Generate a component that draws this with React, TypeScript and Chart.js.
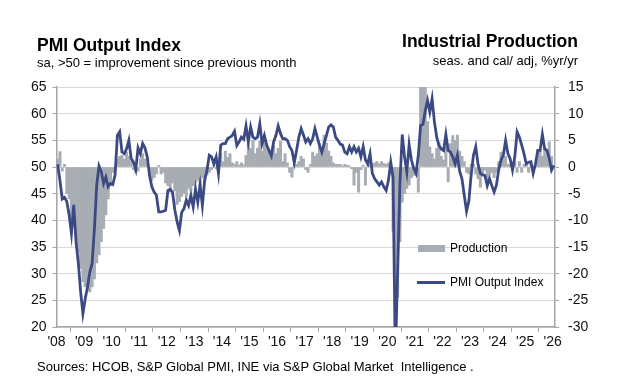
import React, { useEffect, useRef } from "react";
import { Chart, registerables } from "chart.js";

Chart.register(...registerables);

// x-axis year tick labels (one every 12 months, starting Jan 2008)
const yearLabels = ["'08", "'09", "'10", "'11", "'12", "'13", "'14", "'15", "'16", "'17", "'18", "'19", "'20", "'21", "'22", "'23", "'24", "'25", "'26"];

// PMI Output Index, monthly, Jan 2008 – Jan 2026 (left axis)
const pmiOutput = [
  50.5, 47.5, 44, 44.3, 43.5, 41, 37.5, 42.9, 36, 32, 26.6, 22.5,
  25.3, 27.5, 30.3, 31.9, 38.4, 46.6, 50.2, 49.1, 46.9, 48.1, 46.3, 46.9,
  46.7, 48.5, 55.9, 56.6, 52.8, 52.5, 53.4, 55, 51.6, 50.9, 49.5, 53.6,
  52.5, 54.4, 53.6, 51.9, 48.4, 46.3, 45.3, 44.7, 41.6, 41.6, 41.7, 41.9,
  45.6, 45.8, 45.3, 42, 39.7, 38.1, 41.5, 42.2, 43.8, 42.8, 44.7, 42.5,
  45.9, 43.4, 46.6, 42.8, 47.5, 49.4, 52.2, 51.9, 50.6, 51.9, 48.8, 54.1,
  54.4, 54.4, 55.3, 55.6, 55.9, 56.7, 54, 54.7, 55.6, 55.2, 57.7, 54.7,
  57.5, 55.6, 55.3, 55.6, 58.1, 54.4, 55.9, 54.1, 53.1, 52.1, 54.7, 55.9,
  57.7, 56.3, 55.3, 55.3, 55, 53.8, 53.1, 50.8, 53.1, 55.6, 57.2, 56,
  54.7, 55.3, 54.4, 55.3, 57.2, 55.6, 54, 52.8, 54.4, 55.9, 57.5, 57.9,
  57.5, 55.6, 55, 54.3, 54.1, 52.8, 52.5, 53.8, 52.8, 53.8, 52.8, 53.5,
  51.9, 53.8, 51.3, 50.6, 52.5, 48.8, 47.8, 47.2, 46.6, 47.2, 46.3, 45.6,
  47.5, 50.9, 48, 14, 30.3, 47, 56.1, 51.9, 49.1, 54.2, 51.3, 49.7,
  48.8, 52.2, 57.8, 58, 60.5, 62.5, 60.3, 62.8, 58.5, 55.6, 54, 53.4,
  53.1, 56.1, 53.1, 52.8, 51.9, 50.6, 52.2, 49.2, 47.8, 44.7, 41.7, 43.6,
  48.5, 52.2, 53.8, 50.5, 48.8, 48.5, 48.4, 46.5, 47.8, 46.5, 45.3, 46.6,
  49.5, 51.3, 52.2, 55, 52.5, 51.5, 49.4, 51.9, 56.6, 55.6, 54.1, 52.5,
  50.6, 50.9, 51, 48.8, 50.6, 53.1, 53.1, 56.1, 53.4, 53.1, 51.6, 49.4,
  50.3,
];

// Industrial Production, % yr/yr, monthly, Jan 2008 – Dec 2025 (right axis)
const industrialProduction = [
  1.5, 2.9, -0.8, 0.5, -5, -6, -10, -11, -13.5, -16, -19, -21.5,
  -22.5, -23, -23.4, -22.5, -21, -18, -16.5, -14, -11.5, -9, -6, -3.5,
  -1, -0.7, 1.5, 2, 2.2, 1.5, 2.8, 2, 1, -0.5, -1, -0.8,
  1.5, 2.5, 1.5, 0.8, -1.6, -2.5, -2, -1.3, 0.3, -1.3, -1, -3,
  -3.5, -4.7, -3, -4.5, -7, -6.5, -5.5, -5, -5.5, -4, -4.5, -3.5,
  -3, -2.5, -3.5, -2, -2.2, -1.5, -1, -0.5, 0.3, -0.3, 0.5, 2.5,
  1, 3, 1.8, 2.5, 0.8, 0.5, 1, 0.4, 0.8, 0.4, 2.2, 4.4,
  3.5, 5, 2.5, 3.5, 4.8, 3, 5, 4, 3.2, 2.5, 4, 2.5,
  3.5, 4.8, 1, 2.5, 0.8, -1, -1.9, 0.5, 0.5, 1, 2, 1.5,
  -0.5, -1, 0.5, 2.8, 2, 2.5, 4.4, 3.5, 6, 4.5, 3, 2,
  0.8, 0.5, 0.5, 0.5, 0.2, 0.5, 0.3, 0.2, -0.3, -3.4, -1, -4.7,
  -0.5, 0.3, -3.4, 0.6, 0.8, 0.5, 0.8, 1, 0.6, 1, 0.7, 0.5,
  0.8, 0.4, -12, -34, -24.5, -14, -6.6, -5, -4, -3.4, -2, -1.6,
  -1.6, -4.7, 16, 45, 25, 8.5, 3.8, 2.5, 1.5, 3.5, 4.6, 2,
  1.3, 3.8, -2.8, 4.4, 5.9, 5, 6, 3, 2, 1, -1, -1.3,
  0.5, 0.5, -1.3, -2.2, -3.8, -1.5, -0.6, -2.8, -1.5, -1, -2, -1,
  1, 2.8, 1.5, 2, 0.5, 0.5, 0.3, 1, -1, 1, -1, 0.5,
  0.5, -1, 0.5, -0.8, 0.5, 3, 3, 2, 3.8, 2.5, 4.7, 2,
];

const FONT = "'Liberation Sans', Arial, Helvetica, sans-serif";
const LINE_COLOR = "#3B4A82";
const BAR_COLOR = "#A7ADB3";
const AXIS_COLOR = "#A6A6A6";
const GRID_COLOR = "#D9D9D9";

export default function App() {
  const canvasRef = useRef<HTMLCanvasElement | null>(null);

  useEffect(() => {
    document.body.style.margin = "0";
    const canvas = canvasRef.current;
    if (!canvas) return;
    Chart.defaults.font.family = FONT;

    const chart = new Chart(canvas, {
      data: {
        datasets: [
          {
            type: "line",
            label: "PMI Output Index",
            data: pmiOutput.map((v, i) => ({ x: i + 0.5, y: v })),
            yAxisID: "y",
            borderColor: LINE_COLOR,
            borderWidth: 2.8,
            pointRadius: 0,
            tension: 0,
            clip: 0,
            order: 0,
          } as any,
          {
            type: "bar",
            label: "Production",
            data: industrialProduction.map((v, i) => ({ x: i + 0.5, y: v })),
            yAxisID: "y1",
            backgroundColor: BAR_COLOR,
            borderWidth: 0,
            barThickness: 2.35,
            clip: 0,
            order: 1,
          } as any,
        ],
      },
      options: {
        responsive: false,
        animation: false,
        devicePixelRatio: 1,
        layout: { padding: { top: 87, bottom: 34, left: 0, right: 0 } },
        plugins: { legend: { display: false }, tooltip: { enabled: false } },
        scales: {
          x: {
            type: "linear",
            min: 0,
            max: 217,
            offset: false,
            afterBuildTicks: (axis: any) => {
              axis.ticks = yearLabels.map((_, k) => ({ value: k * 12 }));
            },
            afterFit: (axis: any) => {
              axis.height = 30;
            },
            ticks: {
              autoSkip: false,
              maxRotation: 0,
              padding: 2,
              color: "#111",
              font: { size: 14 },
              callback: (value: any) => yearLabels[Math.round(Number(value) / 12)] ?? "",
            },
            grid: {
              drawOnChartArea: false,
              drawTicks: true,
              tickLength: 5,
              tickColor: AXIS_COLOR,
              color: AXIS_COLOR,
            },
            border: { display: true, color: AXIS_COLOR, width: 1.5 },
          },
          y: {
            position: "left",
            min: 20,
            max: 65,
            afterFit: (axis: any) => {
              axis.width = 56.5;
            },
            ticks: { stepSize: 5, padding: 6, color: "#111", font: { size: 14 } },
            grid: {
              color: GRID_COLOR,
              lineWidth: 1,
              tickLength: 4,
              tickColor: AXIS_COLOR,
            },
            border: { display: true, color: AXIS_COLOR, width: 1.5 },
          },
          y1: {
            position: "right",
            min: -30,
            max: 15,
            afterFit: (axis: any) => {
              axis.width = 79;
            },
            ticks: { stepSize: 5, padding: 9, color: "#111", font: { size: 14 } },
            grid: {
              drawOnChartArea: false,
              tickLength: 4,
              tickColor: AXIS_COLOR,
              color: AXIS_COLOR,
            },
            border: { display: true, color: AXIS_COLOR, width: 1.5 },
          },
        },
      } as any,
    });
    return () => chart.destroy();
  }, []);

  const text: React.CSSProperties = {
    position: "absolute",
    fontFamily: FONT,
    color: "#000",
    whiteSpace: "pre",
    lineHeight: 1,
  };

  return (
    <div style={{ position: "relative", width: 634, height: 391, background: "#fff", overflow: "hidden" }}>
      <canvas ref={canvasRef} width={634} height={391} style={{ position: "absolute", left: 0, top: 0, width: 634, height: 391 }} />
      <div style={{ ...text, left: 37, top: 37, fontSize: 17.5, fontWeight: "bold" }}>PMI Output Index</div>
      <div style={{ ...text, left: 37, top: 56, fontSize: 13 }}>sa, &gt;50 = improvement since previous month</div>
      <div style={{ ...text, right: 56, top: 33, fontSize: 17.5, fontWeight: "bold", textAlign: "right" }}>Industrial Production</div>
      <div style={{ ...text, right: 56, top: 54, fontSize: 13, textAlign: "right" }}>seas. and cal/ adj, %yr/yr</div>

      <div style={{ position: "absolute", left: 418, top: 245, width: 27, height: 7, background: BAR_COLOR }} />
      <div style={{ ...text, left: 450, top: 242, fontSize: 12 }}>Production</div>
      <div style={{ position: "absolute", left: 417, top: 280.5, width: 28, height: 3, background: LINE_COLOR }} />
      <div style={{ ...text, left: 450, top: 276, fontSize: 12 }}>PMI Output Index</div>

      <div style={{ ...text, left: 37, top: 360, fontSize: 13 }}>Sources: HCOB, S&amp;P Global PMI, INE via S&amp;P Global Market  Intelligence .</div>
    </div>
  );
}
